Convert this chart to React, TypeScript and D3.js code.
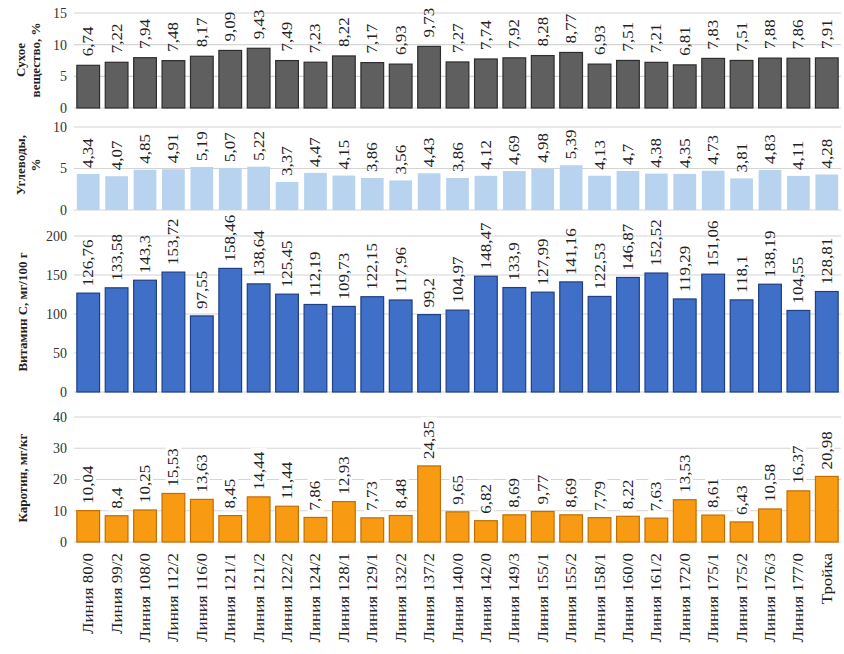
import React from "react";
import * as d3 from "d3";

const categories = [
  "Линия 80/0", "Линия 99/2", "Линия 108/0", "Линия 112/2", "Линия 116/0", "Линия 121/1",
  "Линия 121/2", "Линия 122/2", "Линия 124/2", "Линия 128/1", "Линия 129/1", "Линия 132/2",
  "Линия 137/2", "Линия 140/0", "Линия 142/0", "Линия 149/3", "Линия 155/1", "Линия 155/2",
  "Линия 158/1", "Линия 160/0", "Линия 161/2", "Линия 172/0", "Линия 175/1", "Линия 175/2",
  "Линия 176/3", "Линия 177/0", "Тройка",
];

const dryMatter = [6.74, 7.22, 7.94, 7.48, 8.17, 9.09, 9.43, 7.49, 7.23, 8.22, 7.17, 6.93, 9.73, 7.27, 7.74, 7.92, 8.28, 8.77, 6.93, 7.51, 7.21, 6.81, 7.83, 7.51, 7.88, 7.86, 7.91];
const carbs = [4.34, 4.07, 4.85, 4.91, 5.19, 5.07, 5.22, 3.37, 4.47, 4.15, 3.86, 3.56, 4.43, 3.86, 4.12, 4.69, 4.98, 5.39, 4.13, 4.7, 4.38, 4.35, 4.73, 3.81, 4.83, 4.11, 4.28];
const vitaminC = [126.76, 133.58, 143.3, 153.72, 97.55, 158.46, 138.64, 125.45, 112.19, 109.73, 122.15, 117.96, 99.2, 104.97, 148.47, 133.9, 127.99, 141.16, 122.53, 146.87, 152.52, 119.29, 151.06, 118.1, 138.19, 104.55, 128.81];
const carotene = [10.04, 8.4, 10.25, 15.53, 13.63, 8.45, 14.44, 11.44, 7.86, 12.93, 7.73, 8.48, 24.35, 9.65, 6.82, 8.69, 9.77, 8.69, 7.79, 8.22, 7.63, 13.53, 8.61, 6.43, 10.58, 16.37, 20.98];

const dryTicks = [0, 5, 10, 15];
const carbTicks = [0, 5, 10];
const vitTicks = [0, 50, 100, 150, 200];
const carTicks = [0, 10, 20, 30, 40];

const titles = [
  ["Сухое", "вещество, %"],
  ["Углеводы,", "%"],
  ["Витамин С, мг/100 г"],
  ["Каротин, мг/кг"],
];

const FONT = "'Liberation Serif', 'DejaVu Serif', serif";
const W = 844;
const H = 654;

const panels = [
  { values: dryMatter, ticks: dryTicks, max: 15, y0: 108, y1: 13, fill: "#5f5f5f", stroke: "#2e2e2e", title: titles[0], titleY: 60, labelBg: false, gap: 9 },
  { values: carbs, ticks: carbTicks, max: 10, y0: 210, y1: 127, fill: "#b8d3ef", stroke: "none", title: titles[1], titleY: 165, labelBg: false, gap: 6 },
  { values: vitaminC, ticks: vitTicks, max: 200, y0: 392, y1: 236, fill: "#3f6fc6", stroke: "#1f3f86", title: titles[2], titleY: 312, labelBg: false, gap: 7 },
  { values: carotene, ticks: carTicks, max: 40, y0: 542, y1: 417, fill: "#f89a12", stroke: "#c06f00", title: titles[3], titleY: 478, labelBg: true, gap: 7 },
];

const fmt = (v: number) => String(v).replace(".", ",");

export default function App() {
  const x = d3.scaleBand<string>().domain(categories).range([74, 841]).paddingInner(0.2).paddingOuter(0.1);
  const bw = x.bandwidth();
  return (
    <svg width={W} height={H} style={{ position: "absolute", left: 0, top: 0, background: "#fff" }} fontFamily={FONT}>
      {panels.map((p, pi) => {
        const y = d3.scaleLinear().domain([0, p.max]).range([p.y0, p.y1]);
        return (
          <g key={pi}>
            {p.ticks.map((t) => (
              <g key={t}>
                <line x1={74} x2={841} y1={y(t)} y2={y(t)} stroke="#d4d4d4" strokeWidth={1.2} />
                <text x={67} y={y(t)} dy="0.35em" textAnchor="end" fontSize={14} fill="#333">{t}</text>
              </g>
            ))}
            {p.values.map((v, i) => {
              const cx = (x(categories[i]) as number) + bw / 2;
              const top = y(v);
              const label = fmt(v);
              const lw = label.length * 8;
              return (
                <g key={i}>
                  {p.labelBg && (
                    <rect x={cx - 8} y={top - p.gap - lw - 2} width={16} height={lw + 4} fill="#fff" />
                  )}
                  <rect x={x(categories[i])} y={top} width={bw} height={p.y0 - top} fill={p.fill} stroke={p.stroke} strokeWidth={1.2} />
                  <text transform={`translate(${cx + 5},${top - p.gap}) rotate(-90) scale(1,0.85)`} fontSize={17} fill="#222">{label}</text>
                </g>
              );
            })}
            {p.title.map((line, li) => (
              <text key={li} transform={`translate(${p.title.length === 2 ? 25 + li * 15 : 27},${p.titleY}) rotate(-90)`} textAnchor="middle" fontSize={13} fontWeight="bold" fill="#222">{line}</text>
            ))}
          </g>
        );
      })}
      {categories.map((c) => (
        <text key={c} transform={`translate(${(x(c) as number) + bw / 2 + 5},553) rotate(-90) scale(1,0.85)`} textAnchor="end" fontSize={17} fill="#222">{c}</text>
      ))}
    </svg>
  );
}
